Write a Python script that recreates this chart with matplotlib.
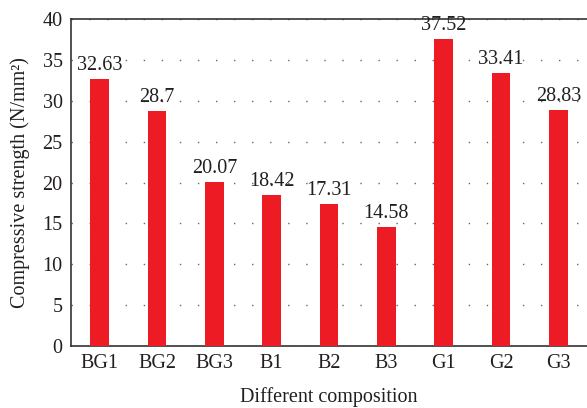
import matplotlib
matplotlib.use("Agg")
import matplotlib.pyplot as plt

categories = ["BG1", "BG2", "BG3", "B1", "B2", "B3", "G1", "G2", "G3"]
values = [32.63, 28.7, 20.07, 18.42, 17.31, 14.58, 37.52, 33.41, 28.83]
labels = ["32.63", "28.7", "20.07", "18.42", "17.31", "14.58", "37.52", "33.41", "28.83"]

plt.rcParams['font.family'] = ['Liberation Serif', 'DejaVu Serif']

fig = plt.figure(figsize=(5.87, 4.08), dpi=100)
ax = fig.add_axes([71/587, 1 - 346/408, (587 - 71)/587, (346 - 19)/408])

x = range(len(categories))
ax.bar(x, values, width=0.33, color="#ED1C24", zorder=3)
for xi, v, lab in zip(x, values, labels):
    ax.text(xi, v + 0.5, lab, ha="center", va="bottom", fontsize=14.5, color="#231f20")

ax.set_xlim(-0.5, 8.5)
ax.set_ylim(0, 40)
ax.set_yticks(range(0, 41, 5))
ax.set_xticks(list(x))
ax.set_xticklabels(categories)
ax.yaxis.grid(True, linestyle=(0, (1, 12)), color="#666666", linewidth=1.0, zorder=0)
ax.tick_params(axis="both", length=0, labelsize=14.5, colors="#231f20", pad=6)
for s in ["left", "bottom", "top"]:
    ax.spines[s].set_color("#333333")
    ax.spines[s].set_linewidth(1.2)
ax.spines["right"].set_visible(False)
ax.set_ylabel("Compressive strength (N/mm²)", fontsize=14.5, color="#231f20", labelpad=9)
ax.set_xlabel("Different composition", fontsize=14.5, color="#231f20", labelpad=10)

fig.savefig("out.png", dpi=100)
